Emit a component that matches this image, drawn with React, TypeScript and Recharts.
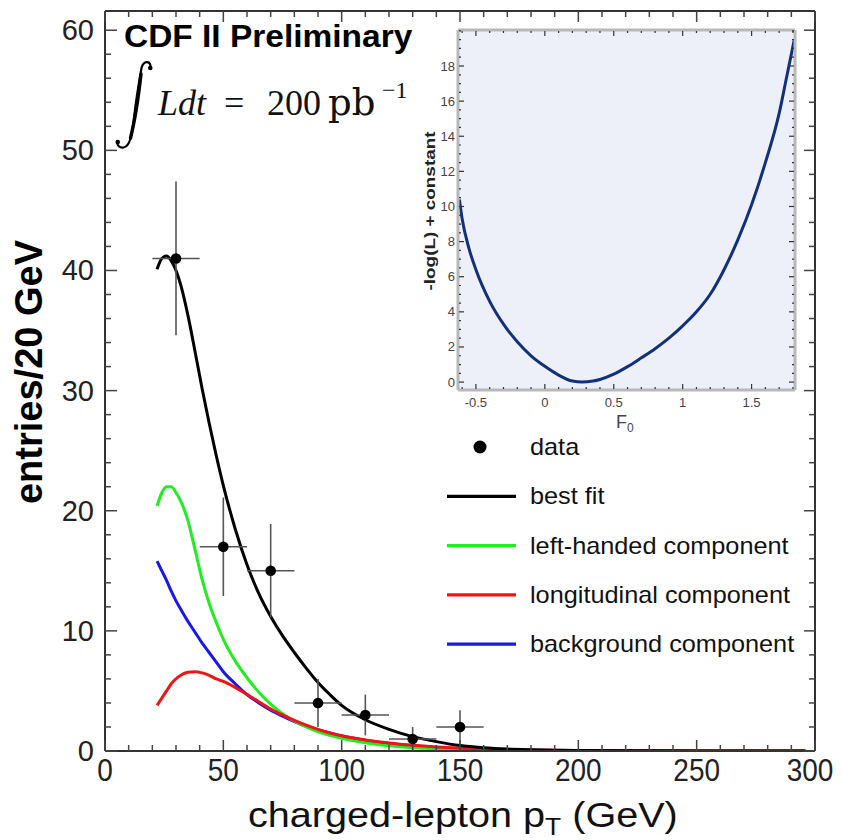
import React from "react";
import {
  ComposedChart,
  LineChart,
  Line,
  Scatter,
  ErrorBar,
  XAxis,
  YAxis,
  Legend,
} from "recharts";

// fit curves, sampled in charged-lepton pT (GeV)
const PT = [22, 24, 26, 28, 30, 32, 35, 38, 41, 44, 47, 50, 55, 60, 65, 70, 75, 80, 85, 90, 95, 100, 110, 120, 130, 140, 150, 160, 170, 180, 200, 225, 250, 275, 296];
const BEST_FIT = [40.1, 41.0, 41.2, 40.8, 40.0, 38.8, 36.3, 33.3, 30.2, 27.3, 24.6, 22.1, 18.5, 15.5, 13.1, 11.2, 9.6, 8.2, 6.9, 5.7, 4.7, 3.8, 2.6, 1.8, 1.2, 0.78, 0.45, 0.27, 0.16, 0.1, 0.04, 0.015, 0.006, 0.003, 0.001];
const LEFT_HANDED = [20.4, 21.5, 22.0, 22.0, 21.5, 20.8, 19.2, 16.8, 14.3, 12.3, 10.7, 9.3, 7.5, 6.1, 4.9, 3.9, 3.1, 2.5, 2.0, 1.6, 1.3, 1.05, 0.68, 0.44, 0.28, 0.18, 0.11, 0.07, 0.045, 0.03, 0.012, 0.005, 0.002, 0.001, 0];
const LONGITUDINAL = [3.8, 4.4, 5.0, 5.6, 6.0, 6.3, 6.55, 6.6, 6.5, 6.3, 6.0, 5.8, 5.3, 4.7, 4.1, 3.5, 3.0, 2.55, 2.15, 1.8, 1.5, 1.27, 0.92, 0.66, 0.47, 0.33, 0.23, 0.16, 0.11, 0.08, 0.04, 0.017, 0.007, 0.003, 0.002];
const BACKGROUND = [15.8, 15.0, 14.2, 13.3, 12.5, 11.8, 10.8, 9.9, 9.0, 8.2, 7.4, 6.6, 5.6, 4.7, 4.0, 3.4, 2.9, 2.45, 2.05, 1.75, 1.5, 1.25, 0.9, 0.62, 0.44, 0.3, 0.21, 0.14, 0.1, 0.07, 0.035, 0.015, 0.007, 0.003, 0.002];

// data points
const DATA_PT = [30, 50, 70, 90, 110, 130, 150];
const DATA_N = [41, 17, 15, 4, 3, 1, 2];
const DATA_ERR_X = [10, 10, 10, 10, 10, 10, 10];
const DATA_ERR_Y = [6.4, 4.1, 3.9, 2.0, 1.7, 1.0, 1.4];

// inset likelihood scan
const F0 = [-0.62, -0.6, -0.55, -0.5, -0.4, -0.3, -0.2, -0.1, 0, 0.1, 0.2, 0.27, 0.35, 0.4, 0.5, 0.6, 0.7, 0.8, 0.9, 1.0, 1.1, 1.2, 1.3, 1.4, 1.5, 1.6, 1.7, 1.75, 1.81];
const NLL = [10.4, 9.3, 7.6, 6.4, 4.6, 3.3, 2.3, 1.5, 0.9, 0.4, 0.06, 0, 0.06, 0.15, 0.45, 0.88, 1.38, 1.9, 2.5, 3.2, 4.0, 5.0, 6.4, 8.1, 10.1, 12.5, 15.3, 17.2, 19.5];

const X_TICKS = [0, 50, 100, 150, 200, 250, 300];
const Y_TICKS = [0, 10, 20, 30, 40, 50, 60];
const NLL_TICKS = [0, 2, 4, 6, 8, 10, 12, 14, 16, 18];

const LEGEND_LABELS = ["data", "best fit", "left-handed component", "longitudinal component", "background component"];
const GREEN = "#1fee1f";
const RED = "#f01414";
const BLUE = "#1818ee";
const LEGEND_COLORS = ["#000", "#000", GREEN, RED, BLUE];

const FONT = "'Liberation Sans', Arial, Helvetica, sans-serif";
const SERIF = "'Liberation Serif', 'DejaVu Serif', serif";

const series = (ys: number[]) => PT.map((pt, i) => ({ pt, v: ys[i] }));
const points = DATA_PT.map((pt, i) => ({ pt, v: DATA_N[i], ex: DATA_ERR_X[i], ey: DATA_ERR_Y[i] }));
const scan = F0.map((f, i) => ({ f, v: NLL[i] }));

// minor tick positions
const xMinor = Array.from({ length: 31 }, (_, i) => i * 10);
const yMinor = Array.from({ length: 31 }, (_, i) => i * 2);
const fMinor = Array.from({ length: 25 }, (_, i) => Math.round((-0.6 + i * 0.1) * 10) / 10);
const nMinor = Array.from({ length: 41 }, (_, i) => i * 0.5);

const TICK = "#444";

const bottomTick = (p: any) => {
  const v = p.payload.value;
  const major = X_TICKS.includes(v);
  // last label is pulled in a little, as in the original
  const lx = v === 300 ? p.x - 5 : p.x;
  return (
    <g>
      <line x1={p.x} x2={p.x} y1={p.y} y2={p.y - (major ? 11 : 6)} stroke={TICK} strokeWidth={1.5} />
      {major && (
        <text transform={`translate(${lx},${p.y + 30}) scale(1,1.15)`} textAnchor="middle" fontSize={28} fill="#222" fontFamily={FONT}>
          {v}
        </text>
      )}
    </g>
  );
};
const topTick = (p: any) => {
  const major = X_TICKS.includes(p.payload.value);
  return <line x1={p.x} x2={p.x} y1={p.y} y2={p.y + (major ? 11 : 6)} stroke={TICK} strokeWidth={1.5} />;
};
const leftTick = (p: any) => {
  const v = p.payload.value;
  const major = Y_TICKS.includes(v);
  return (
    <g>
      <line x1={p.x} x2={p.x + (major ? 12 : 6)} y1={p.y} y2={p.y} stroke={TICK} strokeWidth={1.5} />
      {major && (
        <text x={p.x - 11} y={p.y + 10} textAnchor="end" fontSize={29} fill="#222" fontFamily={FONT}>
          {v}
        </text>
      )}
    </g>
  );
};
const rightTick = (p: any) => {
  const major = Y_TICKS.includes(p.payload.value);
  return <line x1={p.x} x2={p.x - (major ? 11 : 6)} y1={p.y} y2={p.y} stroke={TICK} strokeWidth={1.5} />;
};

// inset ticks
const isHalf = (v: number) => Math.abs(v * 2 - Math.round(v * 2)) < 1e-6;
const insetBottom = (p: any) => {
  const v = p.payload.value;
  const major = isHalf(v);
  return (
    <g>
      <line x1={p.x} x2={p.x} y1={p.y - 1} y2={p.y - (major ? 6 : 3)} stroke="#333" strokeWidth={1.2} />
      {major && (
        <text x={p.x} y={p.y + 17} textAnchor="middle" fontSize={13} fill="#444" fontFamily={FONT}>
          {String(v)}
        </text>
      )}
    </g>
  );
};
const insetTop = (p: any) => {
  const major = isHalf(p.payload.value);
  return <line x1={p.x} x2={p.x} y1={p.y + 1} y2={p.y + (major ? 6 : 3)} stroke="#333" strokeWidth={1.2} />;
};
const insetLeft = (p: any) => {
  const v = p.payload.value;
  const major = NLL_TICKS.includes(v);
  return (
    <g>
      <line x1={p.x + 1} x2={p.x + (major ? 6 : 3)} y1={p.y} y2={p.y} stroke="#333" strokeWidth={1.2} />
      {major && (
        <text x={p.x - 3} y={p.y + 4.5} textAnchor="end" fontSize={13} fill="#444" fontFamily={FONT}>
          {v}
        </text>
      )}
    </g>
  );
};
const insetRight = (p: any) => {
  const major = NLL_TICKS.includes(p.payload.value);
  return <line x1={p.x - 1} x2={p.x - (major ? 6 : 3)} y1={p.y} y2={p.y} stroke="#333" strokeWidth={1.2} />;
};

const renderLegend = () => (
  <svg width={380} height={240} style={{ overflow: "visible" }}>
    {LEGEND_LABELS.map((label, i) => {
      const cy = 22 + i * 49.3;
      return (
        <g key={label}>
          {i === 0 ? (
            <circle cx={40} cy={cy} r={6.5} fill="#000" />
          ) : (
            <line x1={7} x2={76} y1={cy} y2={cy} stroke={LEGEND_COLORS[i]} strokeWidth={3.2} />
          )}
          <text transform={`translate(90,${cy + 8}) scale(1.1,1)`} fontSize={23} fill="#111" fontFamily={FONT}>
            {label}
          </text>
        </g>
      );
    })}
  </svg>
);

const AX = { stroke: "#333", strokeWidth: 2 };
const INSET_AX = { stroke: "#b8b8b8", strokeWidth: 3 };

export default function App() {
  return (
    <div style={{ position: "relative", width: 830, height: 832, fontFamily: FONT }}>
      <ComposedChart width={830} height={820} margin={{ top: 2, right: 22, bottom: 37, left: 37 }}>
        <XAxis xAxisId="b" type="number" dataKey="pt" domain={[0, 300]} ticks={xMinor} interval={0} allowDataOverflow
          height={40} tickSize={0} tickMargin={0} tickLine={false} tick={bottomTick} axisLine={AX} />
        <XAxis xAxisId="t" orientation="top" type="number" dataKey="pt" domain={[0, 300]} ticks={xMinor} interval={0} allowDataOverflow
          height={1} tickSize={0} tickMargin={0} tickLine={false} tick={topTick} axisLine={AX} />
        <YAxis yAxisId="l" type="number" domain={[0, 61.6]} ticks={yMinor} interval={0} allowDataOverflow
          width={60} tickSize={0} tickMargin={0} tickLine={false} tick={leftTick} axisLine={AX} />
        <YAxis yAxisId="r" orientation="right" type="number" domain={[0, 61.6]} ticks={yMinor} interval={0} allowDataOverflow
          width={1} tickSize={0} tickMargin={0} tickLine={false} tick={rightTick} axisLine={AX} />
        <Line xAxisId="b" yAxisId="l" data={series(BACKGROUND)} dataKey="v" name="background component" type="monotone"
          stroke={BLUE} strokeWidth={3} dot={false} isAnimationActive={false} />
        <Line xAxisId="b" yAxisId="l" data={series(LEFT_HANDED)} dataKey="v" name="left-handed component" type="monotone"
          stroke={GREEN} strokeWidth={3} dot={false} isAnimationActive={false} />
        <Line xAxisId="b" yAxisId="l" data={series(LONGITUDINAL)} dataKey="v" name="longitudinal component" type="monotone"
          stroke={RED} strokeWidth={3} dot={false} isAnimationActive={false} />
        <Line xAxisId="b" yAxisId="l" data={series(BEST_FIT)} dataKey="v" name="best fit" type="monotone"
          stroke="#000" strokeWidth={3} dot={false} isAnimationActive={false} />
        <Scatter xAxisId="b" yAxisId="l" data={points} dataKey="v" name="data" isAnimationActive={false}
          shape={(p: any) => <circle cx={p.cx} cy={p.cy} r={5.3} fill="#000" />}>
          <ErrorBar dataKey="ey" direction="y" width={0} stroke="#555" strokeWidth={1.6} isAnimationActive={false} />
          <ErrorBar dataKey="ex" direction="x" width={0} stroke="#555" strokeWidth={1.6} isAnimationActive={false} />
        </Scatter>
        <Legend layout="vertical" align="center" verticalAlign="middle" content={renderLegend}
          wrapperStyle={{ position: "absolute", left: 432, top: 417, width: 380, height: 240 }} />
      </ComposedChart>

      {/* annotations, drawn in page coordinates */}
      <svg width={830} height={832} style={{ position: "absolute", left: 0, top: 0, overflow: "visible", pointerEvents: "none" }}>
        <g transform="translate(-8,-8)">
          <text transform="translate(124,47) scale(1.08,1)" fontSize={31} fontWeight="bold" fill="#000" fontFamily={FONT}>CDF II Preliminary</text>
          <path d="M150.5 68 C151 61 144 59.5 141.5 68 C139 82 136 100 134 118 C132 135 130 146.5 123.5 147.5 C119.5 148 117 145.5 117.5 142"
            fill="none" stroke="#000" strokeWidth={2.2} />
          <path d="M141 74 C139 92 135.5 118 130.5 138" fill="none" stroke="#000" strokeWidth={3.4} strokeLinecap="round" />
          <circle cx={150.3} cy={68} r={2.3} fill="#000" />
          <circle cx={117.7} cy={142} r={2.3} fill="#000" />
          <text x={158} y={115} fontSize={36} fontStyle="italic" fill="#111" fontFamily={SERIF}>Ldt</text>
          <text x={224} y={115} fontSize={36} fill="#111" fontFamily={SERIF}>=</text>
          <text x={267} y={115} fontSize={36} fill="#111" fontFamily={SERIF}>200</text>
          <text x={328} y={115} fontSize={37} fill="#111" fontFamily="'DejaVu Serif', serif">pb</text>
          <text x={382} y={98} fontSize={24} fill="#111" fontFamily={SERIF}>−1</text>
          <text transform="translate(42,372) rotate(-90)" textAnchor="middle" fontSize={38} fontWeight="bold" fill="#000" fontFamily={FONT}>
            entries/20 GeV
          </text>
          <text transform="translate(248,827) scale(1.1,1)" fontSize={36} fill="#111" fontFamily={FONT}>
            charged-lepton p<tspan fontSize={24} dy={8}>T</tspan><tspan dy={-8}> (GeV)</tspan>
          </text>
        </g>
      </svg>

      {/* inset: likelihood scan */}
      <div style={{ position: "absolute", left: 400, top: 10, width: 400, height: 430 }}>
        <div style={{ position: "absolute", left: 50, top: 12, width: 337, height: 360, background: "#edf0f9" }} />
        <LineChart width={400} height={430} margin={{ top: 11, right: 12, bottom: 28, left: 20 }}>
          <XAxis xAxisId="b" type="number" dataKey="f" domain={[-0.63, 1.815]} ticks={fMinor} interval={0} allowDataOverflow
            height={30} tickSize={0} tickMargin={0} tickLine={false} tick={insetBottom} axisLine={INSET_AX} />
          <XAxis xAxisId="t" orientation="top" type="number" dataKey="f" domain={[-0.63, 1.815]} ticks={fMinor} interval={0} allowDataOverflow
            height={1} tickSize={0} tickMargin={0} tickLine={false} tick={insetTop} axisLine={INSET_AX} />
          <YAxis yAxisId="l" type="number" domain={[-0.45, 20.05]} ticks={nMinor} interval={0} allowDataOverflow
            width={30} tickSize={0} tickMargin={0} tickLine={false} tick={insetLeft} axisLine={INSET_AX} />
          <YAxis yAxisId="r" orientation="right" type="number" domain={[-0.45, 20.05]} ticks={nMinor} interval={0} allowDataOverflow
            width={1} tickSize={0} tickMargin={0} tickLine={false} tick={insetRight} axisLine={INSET_AX} />
          <Line xAxisId="b" yAxisId="l" data={scan} dataKey="v" type="monotone" stroke="#13317a" strokeWidth={3}
            dot={false} isAnimationActive={false} />
        </LineChart>
        <svg width={400} height={430} style={{ position: "absolute", left: 0, top: 0, overflow: "visible", pointerEvents: "none" }}>
          <text transform="translate(27,193) rotate(-90) scale(1.35,1)" textAnchor="middle" fontSize={14} fontWeight="bold" fill="#222" fontFamily={FONT}>
            -log(L) + constant
          </text>
          <text x={208} y={410} fontSize={18} fill="#444" fontFamily={FONT}>
            F<tspan fontSize={12} dy={4}>0</tspan>
          </text>
        </svg>
      </div>
    </div>
  );
}
